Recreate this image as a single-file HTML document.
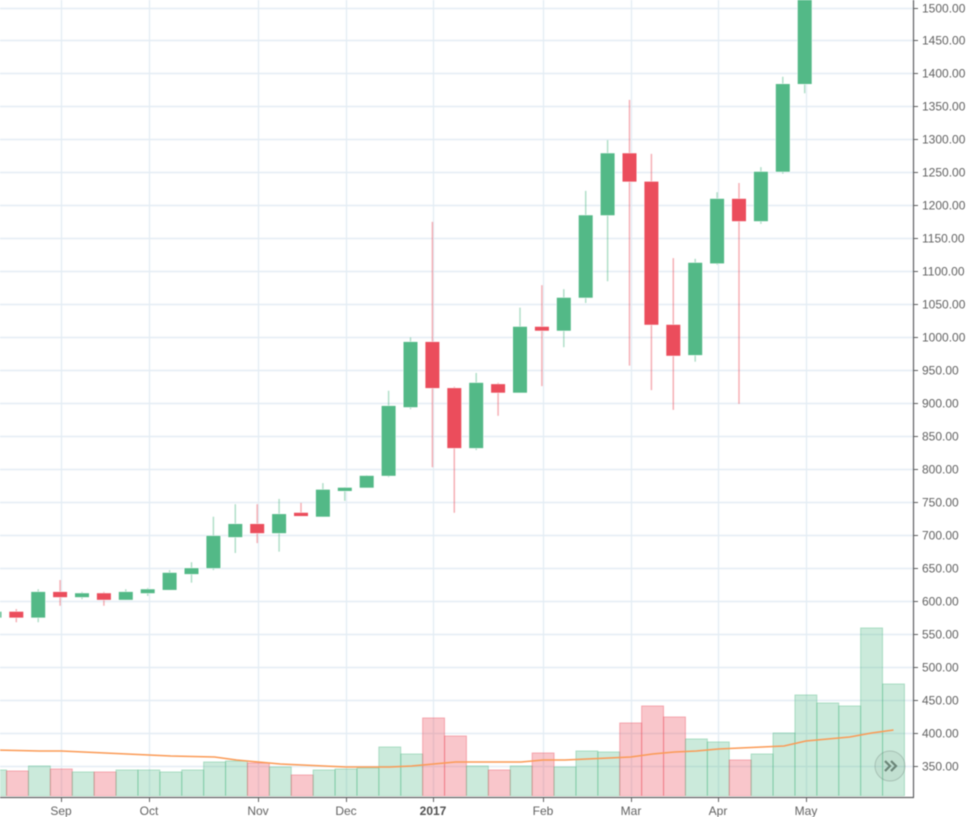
<!DOCTYPE html>
<html lang="en">
<head>
<meta charset="utf-8">
<title>Weekly candlestick chart</title>
<style>
  html, body { margin: 0; padding: 0; background: #fff; }
  body { width: 976px; height: 817px; overflow: hidden; }
  svg { display: block; filter: blur(0.42px); font-family: "Liberation Sans", Arial, sans-serif; }
</style>
</head>
<body>
<svg id="chart" xmlns="http://www.w3.org/2000/svg" width="976" height="817" viewBox="0 0 976 817">
  <defs><clipPath id="plot-clip"><rect x="0" y="0" width="913" height="796"></rect></clipPath></defs>
  <rect x="0" y="0" width="976" height="817" fill="#ffffff"></rect>
  <g id="grid"></g>
  <g id="volume" clip-path="url(#plot-clip)"></g>
  <g id="ma" clip-path="url(#plot-clip)"></g>
  <g id="candles" clip-path="url(#plot-clip)"></g>
  <g id="axes"></g>
  <g>
    <circle cx="890" cy="766" r="15" fill="rgba(120,135,128,0.1)" stroke="rgba(110,125,118,0.35)" stroke-width="1"></circle>
    <path d="M885 761 L890 766 L885 771 M891 761 L896 766 L891 771" fill="none" stroke="#6b8578" stroke-width="2.2"></path>
  </g>
</svg>
<script>
const weeks = ["08-15","08-22","08-29","09-05","09-12","09-19","09-26","10-03","10-10","10-17","10-24","10-31","11-07","11-14","11-21","11-28","12-05","12-12","12-19","12-26","01-02","01-09","01-16","01-23","01-30","02-06","02-13","02-20","02-27","03-06","03-13","03-20","03-27","04-03","04-10","04-17","04-24","05-01","05-08","05-15","05-22","05-29"];
const opens  = [575,584,575,614,606,612,602,612,617,641,650,697,717,703,734,728,767,772,790,894,993,923,832,929,916,1016,1010,1060,1185,1279,1236,1019,973,1112,1210,1176,1251,1384,1570,1780,1990,2090];
const highs  = [587,588,618,632,614,614,618,620,647,659,728,747,747,755,749,779,773,791,919,1000,1175,925,946,931,1045,1079,1073,1222,1299,1360,1278,1120,1119,1220,1234,1258,1395,1620,1800,2020,2150,2200];
const lows   = [571,568,568,593,603,593,602,608,617,628,647,673,688,675,729,728,752,772,788,891,803,734,829,881,916,926,985,1052,1085,957,920,890,963,1110,899,1172,1248,1370,1550,1750,1960,1980];
const closes = [584,575,614,606,612,602,614,618,643,650,699,717,703,732,729,769,772,790,896,993,923,832,931,916,1016,1010,1060,1185,1279,1236,1019,972,1113,1210,1176,1251,1384,1570,1780,1990,2090,2190];
const volumes = [26,25,30,27,24,24,26,26,24,26,34,35,33,29,21,26,27,28,49,42,78,60,30,26,30,43,29,45,44,73,90,79,57,54,36,42,63,101,93,90,168,112];
const volumeMA = [46,45.5,45,45,44,43,42,41,40,39.5,39,36,34,32,31,30,29,29,29,30,32,34,34,34,34,36,36,37,38,39,42,44,45,47,48,49,50,55,57,59,63,66];
const priceTicks = [350,400,450,500,550,600,650,700,750,800,850,900,950,1000,1050,1100,1150,1200,1250,1300,1350,1400,1450,1500];
const monthLabels = ["Sep","Oct","Nov","Dec","2017","Feb","Mar","Apr","May"];
const monthWeekIndex = [3,7,12,16,20,25,29,33,37];

const NS = "http://www.w3.org/2000/svg";
function xAt(i) { return 804.7 - 21.9 * (37 - i); }
function yPrice(p) { return 7.5 + (1500 - p) * 0.6596; }
function yVolume(v) { return 796 - v; }
function make(tag, attrs, parent) {
  const el = document.createElementNS(NS, tag);
  for (const k in attrs) el.setAttribute(k, attrs[k]);
  parent.appendChild(el);
  return el;
}
const gridG = document.getElementById("grid");
const volG = document.getElementById("volume");
const maG = document.getElementById("ma");
const candleG = document.getElementById("candles");
const axesG = document.getElementById("axes");
const GRID = "#e4edf4";
const AXIS = "#5f6062";
const LABEL = "#626262";

priceTicks.forEach(function (p) {
  const y = Math.round(yPrice(p)) + 0.5;
  const line = make("line", { x1: 0, x2: 913, y1: y, y2: y, stroke: GRID, "stroke-width": 1.4 }, gridG);
  
  
  const tick = make("line", { x1: 913, x2: 918, y1: y, y2: y, stroke: AXIS, "stroke-width": 1 }, axesG);
  
  
  const label = make("text", { x: 922, y: y + 4.2, "font-size": 12, fill: LABEL }, axesG);
  label.textContent = p.toFixed(2);
  
  
});

monthWeekIndex.forEach(function (idx, n) {
  const x = Math.round(xAt(idx) + 1) + 0.5;
  const line = make("line", { x1: x, x2: x, y1: 0, y2: 796, stroke: GRID, "stroke-width": 1.4 }, gridG);
  
  
  const tick = make("line", { x1: x, x2: x, y1: 797, y2: 802, stroke: AXIS, "stroke-width": 1 }, axesG);
  
  
  const bold = monthLabels[n] === "2017";
  const label = make("text", { x: x - 0.5, y: 815, "font-size": 12, "text-anchor": "middle", fill: bold ? "#505050" : LABEL, "font-weight": bold ? "bold" : "normal" }, axesG);
  label.textContent = monthLabels[n];
  
  
});

volumes.forEach(function (v, i) {
  const up = closes[i] >= opens[i];
  const cx = xAt(i) + 1.2;
  const top = yVolume(v);
  const bar = make("rect", {
    x: cx - 10.95, y: top, width: 21.9, height: 796 - top,
    fill: up ? "rgba(83,185,135,0.3)" : "rgba(235,77,92,0.32)",
    stroke: up ? "rgba(83,185,135,0.4)" : "rgba(235,77,92,0.4)", "stroke-width": 1
  }, volG);
  
  
});

const maPoints = volumeMA.map(function (v, i) { return (xAt(i) + 1.2).toFixed(1) + "," + yVolume(v).toFixed(1); }).join(" ");
const maLine = make("polyline", { points: maPoints, fill: "none", stroke: "#fb9a55", "stroke-width": 1.5 }, maG);



opens.forEach(function (o, i) {
  const c = closes[i];
  const up = c >= o;
  const x = xAt(i);
  const solid = up ? "#53b987" : "#eb4d5c";
  const wick = make("line", {
    x1: x, x2: x, y1: yPrice(highs[i]), y2: yPrice(lows[i]),
    stroke: up ? "rgba(83,185,135,0.45)" : "rgba(235,77,92,0.45)", "stroke-width": 1.5
  }, candleG);
  
  
  const top = yPrice(Math.max(o, c));
  const bottom = yPrice(Math.min(o, c));
  const halo = make("rect", { x: x - 7.6, y: top - 0.6, width: 15.2, height: bottom - top + 1.2, fill: "#ffffff", opacity: 0.8 }, candleG);
  
  
  const body = make("rect", { x: x - 7, y: top, width: 14, height: Math.max(bottom - top, 1), fill: solid }, candleG);
  
  
});

const yAxis = make("line", { x1: 913.5, x2: 913.5, y1: 0, y2: 797.5, stroke: AXIS, "stroke-width": 1.2 }, axesG);


const xAxis = make("line", { x1: 0, x2: 914, y1: 797.5, y2: 797.5, stroke: AXIS, "stroke-width": 1.2 }, axesG);


</script>
</body>
</html>
